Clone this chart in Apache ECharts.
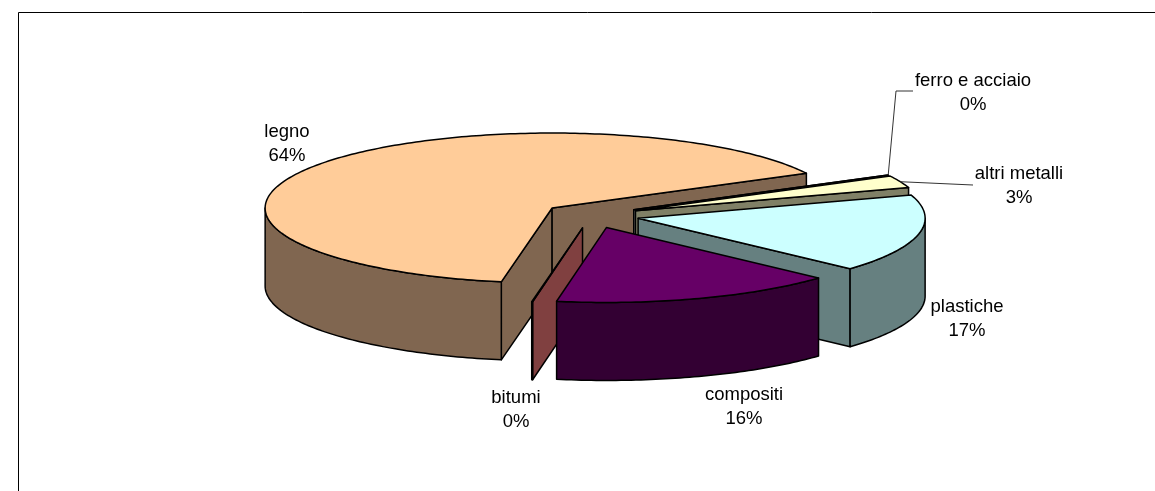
<!DOCTYPE html>
<html>
<head>
<meta charset="utf-8">
<style>html,body{margin:0;padding:0;background:#fff}#c{width:1155px;height:491px}</style>
<script src="https://cdn.jsdelivr.net/npm/echarts@6/dist/echarts.min.js"></script>
</head>
<body>
<div id="c"></div>
<script>
// data, clockwise from the first slice
var categories = ['legno', 'ferro e acciaio', 'altri metalli', 'plastiche', 'compositi', 'bitumi'];
var shares = [64.49, 0.05, 2.65, 16.75, 16.01, 0.05];

// styling
var topColors = ['#FFCC99', '#FFFFFF', '#FFFFCC', '#CCFFFF', '#660066', '#FF8080'];
var sideColors = ['#806650', '#808080', '#808066', '#668080', '#330033', '#804040'];

// layout
var drawOrder = [0, 1, 2, 3, 5, 4];
var pie = { cx: 591, cy: 215.5, rx: 287, ry: 75, depth: 78, explode: 0.168, startAngle: 190.2 };
var labelCenters = [[287, 144], [973, 93], [1019, 186], [967, 319], [744, 407], [516, 410]];
var leaderPaths = [null, [[896, 91], [913, 91]], [[973, 185]], null, null, null];

var total = shares.reduce(function (a, b) { return a + b; }, 0);
var cumulative = [];
shares.reduce(function (sum, v, i) { cumulative[i] = sum; return sum + v; }, 0);

function angleOf(v) {
  return echarts.number.linearMap(v, [0, total], [pie.startAngle, pie.startAngle + 360]);
}
function rad(d) { return d * Math.PI / 180; }

function renderSlice(params, api) {
  var i = api.value(0);
  var a0 = angleOf(cumulative[i]);
  var a1 = angleOf(cumulative[i] + shares[i]);
  var mid = (a0 + a1) / 2;
  var ax = pie.cx + Math.sin(rad(mid)) * pie.explode * pie.rx;
  var ay = pie.cy - Math.cos(rad(mid)) * pie.explode * pie.ry;
  function rim(a, drop) {
    return [ax + Math.sin(rad(a)) * pie.rx, ay - Math.cos(rad(a)) * pie.ry + (drop || 0)];
  }
  function arc(from, to, drop) {
    var n = Math.max(2, Math.ceil(Math.abs(to - from)));
    var pts = [];
    for (var k = 0; k <= n; k++) pts.push(rim(from + (to - from) * k / n, drop));
    return pts;
  }
  var stroke = { stroke: '#000', lineWidth: 1.5, lineJoin: 'round' };
  function poly(points, fill) {
    return { type: 'polygon', shape: { points: points }, style: Object.assign({ fill: fill }, stroke) };
  }
  var children = [];
  var side = sideColors[i];
  // cut faces, only where they look towards the viewer
  function cut(a) {
    var p = rim(a);
    return poly([[ax, ay], p, [p[0], p[1] + pie.depth], [ax, ay + pie.depth]], side);
  }
  if (-Math.sin(rad(a0)) > 0) children.push(cut(a0));
  if (Math.sin(rad(a1)) > 0) children.push(cut(a1));
  // outer wall on the front half of the rim
  [[90, 270], [450, 630]].forEach(function (w) {
    var s = Math.max(a0, w[0]), e = Math.min(a1, w[1]);
    if (e > s) children.push(poly(arc(s, e).concat(arc(e, s, pie.depth)), side));
  });
  // top face
  children.push(poly([[ax, ay]].concat(arc(a0, a1)), topColors[i]));
  // leader line
  if (leaderPaths[i]) {
    children.push({
      type: 'polyline',
      shape: { points: [rim(mid)].concat(leaderPaths[i]) },
      style: { fill: null, stroke: '#333', lineWidth: 1 }
    });
  }
  // label
  children.push({
    type: 'text', z2: 10,
    style: {
      x: labelCenters[i][0], y: labelCenters[i][1],
      text: categories[i] + '\n' + Math.round(shares[i]) + '%',
      fill: '#000', align: 'center', verticalAlign: 'middle',
      font: '18.5px "Liberation Sans", Arial, sans-serif', lineHeight: 24
    }
  });
  return { type: 'group', children: children };
}

var chart = echarts.init(document.getElementById('c'), null, { renderer: 'canvas' });
chart.setOption({
  animation: false,
  backgroundColor: '#fff',
  graphic: [{
    type: 'rect', silent: true,
    shape: { x: 18.5, y: 12.5, width: 1300, height: 700 },
    style: { fill: null, stroke: '#000', lineWidth: 1 }
  }],
  series: [{
    type: 'custom',
    coordinateSystem: 'none',
    renderItem: renderSlice,
    data: drawOrder.map(function (i) { return [i, shares[i]]; })
  }]
});
</script>
</body>
</html>
